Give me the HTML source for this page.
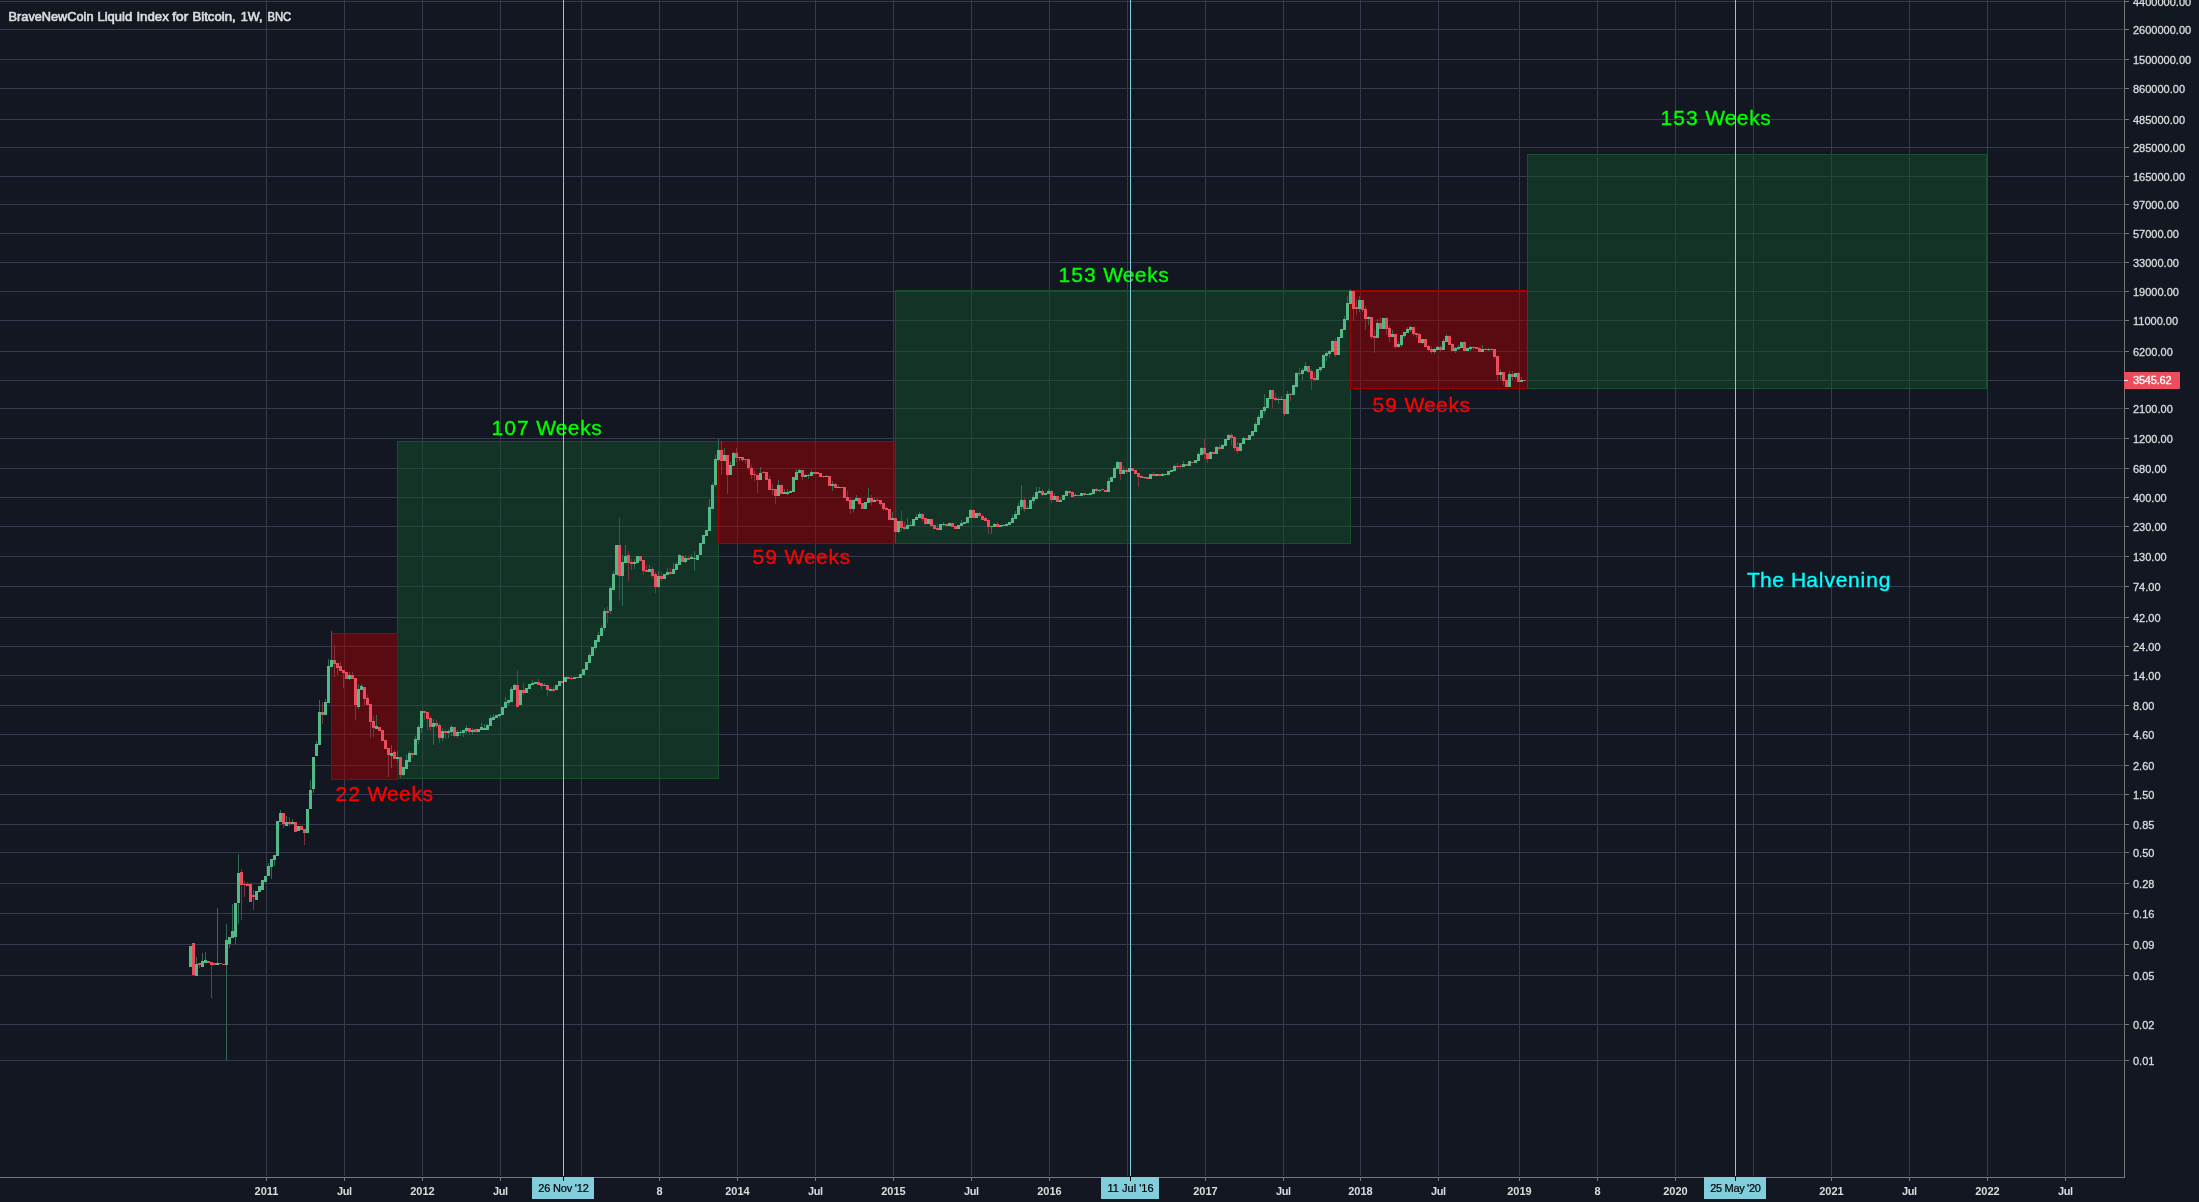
<!DOCTYPE html><html><head><meta charset="utf-8"><title>chart</title><style>html,body{margin:0;padding:0;background:#131722;overflow:hidden}svg{display:block}text{font-family:"Liberation Sans",sans-serif}</style></head><body>
<svg width="2199" height="1202" viewBox="0 0 2199 1202" style="will-change:transform">
<rect width="2199" height="1202" fill="#131722"/>
<g shape-rendering="crispEdges">
<g fill="#363c4e">
<rect x="0" y="1" width="2123" height="1"/>
<rect x="0" y="29" width="2123" height="1"/>
<rect x="0" y="59" width="2123" height="1"/>
<rect x="0" y="88" width="2123" height="1"/>
<rect x="0" y="119" width="2123" height="1"/>
<rect x="0" y="147" width="2123" height="1"/>
<rect x="0" y="176" width="2123" height="1"/>
<rect x="0" y="204" width="2123" height="1"/>
<rect x="0" y="233" width="2123" height="1"/>
<rect x="0" y="262" width="2123" height="1"/>
<rect x="0" y="291" width="2123" height="1"/>
<rect x="0" y="320" width="2123" height="1"/>
<rect x="0" y="351" width="2123" height="1"/>
<rect x="0" y="380" width="2123" height="1"/>
<rect x="0" y="408" width="2123" height="1"/>
<rect x="0" y="438" width="2123" height="1"/>
<rect x="0" y="468" width="2123" height="1"/>
<rect x="0" y="497" width="2123" height="1"/>
<rect x="0" y="526" width="2123" height="1"/>
<rect x="0" y="556" width="2123" height="1"/>
<rect x="0" y="586" width="2123" height="1"/>
<rect x="0" y="617" width="2123" height="1"/>
<rect x="0" y="646" width="2123" height="1"/>
<rect x="0" y="675" width="2123" height="1"/>
<rect x="0" y="705" width="2123" height="1"/>
<rect x="0" y="734" width="2123" height="1"/>
<rect x="0" y="765" width="2123" height="1"/>
<rect x="0" y="794" width="2123" height="1"/>
<rect x="0" y="824" width="2123" height="1"/>
<rect x="0" y="852" width="2123" height="1"/>
<rect x="0" y="883" width="2123" height="1"/>
<rect x="0" y="913" width="2123" height="1"/>
<rect x="0" y="944" width="2123" height="1"/>
<rect x="0" y="975" width="2123" height="1"/>
<rect x="0" y="1024" width="2123" height="1"/>
<rect x="0" y="1060" width="2123" height="1"/>
<rect x="266" y="0" width="1" height="1176"/>
<rect x="344" y="0" width="1" height="1176"/>
<rect x="422" y="0" width="1" height="1176"/>
<rect x="500" y="0" width="1" height="1176"/>
<rect x="581" y="0" width="1" height="1176"/>
<rect x="659" y="0" width="1" height="1176"/>
<rect x="737" y="0" width="1" height="1176"/>
<rect x="815" y="0" width="1" height="1176"/>
<rect x="893" y="0" width="1" height="1176"/>
<rect x="971" y="0" width="1" height="1176"/>
<rect x="1049" y="0" width="1" height="1176"/>
<rect x="1127" y="0" width="1" height="1176"/>
<rect x="1205" y="0" width="1" height="1176"/>
<rect x="1283" y="0" width="1" height="1176"/>
<rect x="1360" y="0" width="1" height="1176"/>
<rect x="1438" y="0" width="1" height="1176"/>
<rect x="1519" y="0" width="1" height="1176"/>
<rect x="1597" y="0" width="1" height="1176"/>
<rect x="1675" y="0" width="1" height="1176"/>
<rect x="1753" y="0" width="1" height="1176"/>
<rect x="1831" y="0" width="1" height="1176"/>
<rect x="1909" y="0" width="1" height="1176"/>
<rect x="1987" y="0" width="1" height="1176"/>
<rect x="2065" y="0" width="1" height="1176"/>
</g>
<rect x="397" y="441" width="322" height="338" fill="rgba(22,80,44,0.5)"/>
<path d="M397 441h322v1h-322zM397 778h322v1h-322zM397 441h1v338h-1zM718 441h1v338h-1z" fill="#16502c"/>
<rect x="331" y="633" width="67" height="147" fill="rgba(160,0,0,0.5)"/>
<path d="M331 633h67v1h-67zM331 779h67v1h-67zM331 633h1v147h-1zM397 633h1v147h-1z" fill="#a00000"/>
<rect x="718" y="441" width="178" height="103" fill="rgba(160,0,0,0.5)"/>
<path d="M718 441h178v1h-178zM718 543h178v1h-178zM718 441h1v103h-1zM895 441h1v103h-1z" fill="#a00000"/>
<rect x="895" y="290" width="456" height="254" fill="rgba(22,80,44,0.5)"/>
<path d="M895 290h456v1h-456zM895 543h456v1h-456zM895 290h1v254h-1zM1350 290h1v254h-1z" fill="#16502c"/>
<rect x="1350" y="290" width="178" height="99" fill="rgba(160,0,0,0.5)"/>
<path d="M1350 290h178v1h-178zM1350 388h178v1h-178zM1350 290h1v99h-1zM1527 290h1v99h-1z" fill="#a00000"/>
<rect x="1527" y="154" width="460" height="235" fill="rgba(22,80,44,0.5)"/>
<path d="M1527 154h460v1h-460zM1527 388h460v1h-460zM1527 154h1v235h-1zM1986 154h1v235h-1z" fill="#16502c"/>
<path d="M196 957h1v19h-1zM202 953h1v14h-1zM205 952h1v11h-1zM217 908h1v57h-1zM226 924h1v136h-1zM229 937h1v11h-1zM232 904h1v34h-1zM235 903h1v41h-1zM238 854h1v70h-1zM268 863h1v13h-1zM271 859h1v20h-1zM274 855h1v11h-1zM280 810h1v12h-1zM286 816h1v10h-1zM292 819h1v5h-1zM310 780h1v29h-1zM313 757h1v36h-1zM316 741h1v15h-1zM319 700h1v45h-1zM325 699h1v16h-1zM328 659h1v44h-1zM331 631h1v36h-1zM349 672h1v8h-1zM358 684h1v25h-1zM361 684h1v6h-1zM376 715h1v14h-1zM391 745h1v23h-1zM397 751h1v11h-1zM403 767h1v9h-1zM406 755h1v14h-1zM409 751h1v11h-1zM415 736h1v19h-1zM418 725h1v19h-1zM421 711h1v22h-1zM433 719h1v26h-1zM442 728h1v13h-1zM448 729h1v9h-1zM451 725h1v11h-1zM457 730h1v8h-1zM460 730h1v6h-1zM463 730h1v7h-1zM466 725h1v9h-1zM472 728h1v7h-1zM481 723h1v7h-1zM484 724h1v6h-1zM487 724h1v6h-1zM490 715h1v11h-1zM493 714h1v6h-1zM499 714h1v4h-1zM505 697h1v11h-1zM508 700h1v6h-1zM511 687h1v15h-1zM514 684h1v6h-1zM532 680h1v5h-1zM544 683h1v3h-1zM550 687h1v4h-1zM589 653h1v10h-1zM595 640h1v10h-1zM598 632h1v10h-1zM601 625h1v11h-1zM604 608h1v23h-1zM610 586h1v28h-1zM613 571h1v19h-1zM622 555h1v51h-1zM625 545h1v18h-1zM634 559h1v10h-1zM649 565h1v7h-1zM658 571h1v17h-1zM667 568h1v7h-1zM673 563h1v11h-1zM676 562h1v8h-1zM679 554h1v11h-1zM685 555h1v8h-1zM691 554h1v5h-1zM694 551h1v20h-1zM709 499h1v32h-1zM712 483h1v26h-1zM715 455h1v32h-1zM718 439h1v23h-1zM724 448h1v13h-1zM730 462h1v13h-1zM733 452h1v14h-1zM739 457h1v4h-1zM760 467h1v13h-1zM778 480h1v16h-1zM784 489h1v5h-1zM787 489h1v6h-1zM790 490h1v3h-1zM796 469h1v11h-1zM799 469h1v4h-1zM805 474h1v3h-1zM808 474h1v5h-1zM811 470h1v6h-1zM826 475h1v2h-1zM832 481h1v10h-1zM838 485h1v3h-1zM853 499h1v13h-1zM856 495h1v6h-1zM868 488h1v15h-1zM874 497h1v5h-1zM892 512h1v8h-1zM898 521h1v12h-1zM907 518h1v11h-1zM910 522h1v4h-1zM916 514h1v6h-1zM919 512h1v6h-1zM943 522h1v4h-1zM961 520h1v6h-1zM970 509h1v9h-1zM991 526h1v8h-1zM994 523h1v4h-1zM1003 524h1v2h-1zM1006 523h1v3h-1zM1012 515h1v8h-1zM1015 511h1v8h-1zM1018 503h1v12h-1zM1021 485h1v25h-1zM1027 506h1v3h-1zM1033 495h1v9h-1zM1036 487h1v12h-1zM1039 487h1v6h-1zM1048 489h1v5h-1zM1054 493h1v7h-1zM1060 497h1v5h-1zM1066 490h1v6h-1zM1075 493h1v3h-1zM1099 489h1v3h-1zM1108 478h1v14h-1zM1114 467h1v11h-1zM1117 461h1v8h-1zM1123 466h1v8h-1zM1144 477h1v2h-1zM1162 473h1v3h-1zM1174 465h1v6h-1zM1183 461h1v6h-1zM1198 452h1v9h-1zM1201 447h1v8h-1zM1210 451h1v8h-1zM1216 446h1v8h-1zM1222 444h1v5h-1zM1228 434h1v6h-1zM1243 437h1v7h-1zM1255 422h1v10h-1zM1258 415h1v10h-1zM1261 410h1v10h-1zM1264 394h1v20h-1zM1278 397h1v7h-1zM1281 396h1v4h-1zM1287 391h1v23h-1zM1296 372h1v15h-1zM1302 368h1v12h-1zM1305 362h1v9h-1zM1320 367h1v5h-1zM1323 354h1v14h-1zM1326 351h1v10h-1zM1329 350h1v8h-1zM1332 340h1v12h-1zM1344 316h1v14h-1zM1347 296h1v24h-1zM1350 289h1v15h-1zM1359 296h1v16h-1zM1368 316h1v9h-1zM1377 319h1v19h-1zM1392 330h1v7h-1zM1398 341h1v7h-1zM1401 335h1v12h-1zM1404 332h1v6h-1zM1407 327h1v6h-1zM1410 326h1v6h-1zM1422 339h1v5h-1zM1434 348h1v6h-1zM1437 346h1v4h-1zM1443 339h1v11h-1zM1446 334h1v8h-1zM1455 347h1v6h-1zM1458 345h1v5h-1zM1470 346h1v5h-1zM1482 345h1v7h-1zM1488 348h1v3h-1zM1500 369h1v11h-1zM1509 371h1v16h-1zM1515 373h1v6h-1zM1521 377h1v5h-1z" fill="#336854"/>
<path d="M199 963h1v5h-1zM211 962h1v36h-1zM241 869h1v51h-1zM244 881h1v16h-1zM247 882h1v4h-1zM253 890h1v20h-1zM283 813h1v15h-1zM289 817h1v9h-1zM304 829h1v16h-1zM322 702h1v22h-1zM334 645h1v32h-1zM337 663h1v12h-1zM340 662h1v9h-1zM343 670h1v18h-1zM352 672h1v7h-1zM355 678h1v42h-1zM364 687h1v19h-1zM367 695h1v10h-1zM370 704h1v34h-1zM373 716h1v21h-1zM388 748h1v29h-1zM394 750h1v9h-1zM400 757h1v21h-1zM412 753h1v5h-1zM424 711h1v9h-1zM427 712h1v18h-1zM430 716h1v15h-1zM436 720h1v8h-1zM439 723h1v20h-1zM445 729h1v10h-1zM454 727h1v10h-1zM469 728h1v7h-1zM475 729h1v4h-1zM517 670h1v37h-1zM523 683h1v12h-1zM538 679h1v6h-1zM541 683h1v7h-1zM547 685h1v11h-1zM553 687h1v5h-1zM571 676h1v4h-1zM607 607h1v16h-1zM619 518h1v83h-1zM628 551h1v30h-1zM631 559h1v11h-1zM643 560h1v15h-1zM646 565h1v7h-1zM652 567h1v11h-1zM655 572h1v21h-1zM661 572h1v9h-1zM670 568h1v7h-1zM682 555h1v7h-1zM688 556h1v4h-1zM721 441h1v34h-1zM727 455h1v39h-1zM736 448h1v14h-1zM742 457h1v5h-1zM745 459h1v5h-1zM748 459h1v11h-1zM751 465h1v14h-1zM754 470h1v11h-1zM757 475h1v18h-1zM763 471h1v2h-1zM769 476h1v14h-1zM772 484h1v11h-1zM775 489h1v15h-1zM781 484h1v10h-1zM802 470h1v10h-1zM823 476h1v2h-1zM835 483h1v5h-1zM847 491h1v10h-1zM850 497h1v17h-1zM859 498h1v7h-1zM871 495h1v10h-1zM877 498h1v3h-1zM880 500h1v6h-1zM883 503h1v8h-1zM886 506h1v4h-1zM895 518h1v25h-1zM901 511h1v20h-1zM904 522h1v8h-1zM922 513h1v9h-1zM925 518h1v7h-1zM937 524h1v6h-1zM973 509h1v9h-1zM979 512h1v5h-1zM982 514h1v6h-1zM985 517h1v4h-1zM988 519h1v15h-1zM997 522h1v5h-1zM1024 498h1v14h-1zM1042 489h1v7h-1zM1051 490h1v13h-1zM1069 491h1v4h-1zM1072 491h1v7h-1zM1084 493h1v3h-1zM1096 488h1v4h-1zM1102 489h1v2h-1zM1120 462h1v18h-1zM1126 468h1v6h-1zM1138 473h1v14h-1zM1141 475h1v3h-1zM1153 472h1v4h-1zM1177 463h1v6h-1zM1180 464h1v4h-1zM1204 439h1v20h-1zM1207 453h1v10h-1zM1219 444h1v7h-1zM1231 433h1v12h-1zM1234 436h1v15h-1zM1237 442h1v12h-1zM1272 390h1v18h-1zM1275 393h1v8h-1zM1284 399h1v17h-1zM1290 393h1v8h-1zM1299 368h1v8h-1zM1308 366h1v7h-1zM1311 369h1v21h-1zM1314 372h1v9h-1zM1335 338h1v19h-1zM1353 291h1v30h-1zM1356 299h1v16h-1zM1362 300h1v12h-1zM1365 306h1v24h-1zM1371 317h1v22h-1zM1374 330h1v23h-1zM1380 317h1v12h-1zM1386 317h1v18h-1zM1389 326h1v16h-1zM1395 334h1v15h-1zM1413 327h1v9h-1zM1416 333h1v5h-1zM1419 333h1v10h-1zM1428 345h1v6h-1zM1431 346h1v8h-1zM1440 346h1v6h-1zM1449 335h1v10h-1zM1452 343h1v9h-1zM1464 341h1v10h-1zM1473 346h1v4h-1zM1479 347h1v5h-1zM1485 348h1v2h-1zM1491 348h1v2h-1zM1494 349h1v10h-1zM1497 356h1v25h-1zM1503 372h1v13h-1zM1506 379h1v8h-1zM1512 371h1v9h-1zM1518 372h1v10h-1z" fill="#7f323f"/>
<path d="M189 946h3v21h-3zM195 964h3v12h-3zM201 961h3v6h-3zM204 960h3v3h-3zM216 963h3v2h-3zM225 940h3v25h-3zM228 937h3v7h-3zM231 931h3v7h-3zM234 903h3v34h-3zM237 873h3v30h-3zM255 891h3v9h-3zM258 886h3v6h-3zM261 880h3v10h-3zM264 876h3v6h-3zM267 866h3v10h-3zM270 859h3v8h-3zM273 855h3v5h-3zM276 821h3v35h-3zM279 813h3v9h-3zM285 822h3v4h-3zM291 822h3v2h-3zM297 826h3v5h-3zM306 809h3v24h-3zM309 790h3v19h-3zM312 757h3v32h-3zM315 744h3v12h-3zM318 712h3v33h-3zM324 702h3v13h-3zM327 666h3v37h-3zM330 660h3v7h-3zM348 675h3v4h-3zM357 689h3v18h-3zM360 686h3v4h-3zM375 726h3v3h-3zM390 753h3v3h-3zM396 757h3v2h-3zM402 767h3v8h-3zM405 760h3v9h-3zM408 753h3v9h-3zM414 739h3v16h-3zM417 727h3v13h-3zM420 711h3v17h-3zM432 723h3v4h-3zM441 731h3v7h-3zM447 731h3v2h-3zM450 727h3v5h-3zM456 732h3v4h-3zM459 732h3v1h-3zM462 730h3v3h-3zM465 728h3v3h-3zM471 730h3v2h-3zM477 729h3v3h-3zM480 727h3v3h-3zM483 728h3v2h-3zM486 725h3v5h-3zM489 718h3v8h-3zM492 717h3v3h-3zM495 715h3v3h-3zM498 714h3v2h-3zM501 707h3v8h-3zM504 702h3v6h-3zM507 700h3v3h-3zM510 689h3v13h-3zM513 685h3v5h-3zM519 690h3v15h-3zM525 688h3v5h-3zM528 684h3v5h-3zM531 683h3v2h-3zM534 682h3v2h-3zM543 685h3v1h-3zM549 689h3v2h-3zM555 685h3v5h-3zM558 681h3v5h-3zM564 677h3v5h-3zM573 677h3v2h-3zM576 677h3v1h-3zM579 674h3v4h-3zM582 669h3v6h-3zM585 662h3v8h-3zM588 655h3v8h-3zM591 647h3v9h-3zM594 640h3v8h-3zM597 635h3v7h-3zM600 628h3v8h-3zM603 611h3v17h-3zM609 588h3v23h-3zM612 574h3v16h-3zM615 545h3v30h-3zM621 562h3v14h-3zM624 556h3v7h-3zM633 562h3v2h-3zM636 556h3v7h-3zM648 569h3v3h-3zM657 576h3v11h-3zM663 574h3v5h-3zM666 572h3v3h-3zM672 569h3v5h-3zM675 564h3v6h-3zM678 555h3v10h-3zM684 558h3v4h-3zM690 557h3v2h-3zM693 558h3v1h-3zM696 555h3v5h-3zM699 543h3v12h-3zM702 535h3v9h-3zM705 530h3v6h-3zM708 507h3v24h-3zM711 485h3v24h-3zM714 459h3v26h-3zM717 450h3v10h-3zM723 455h3v6h-3zM729 465h3v10h-3zM732 453h3v13h-3zM738 457h3v1h-3zM759 473h3v7h-3zM777 485h3v11h-3zM783 492h3v2h-3zM786 492h3v2h-3zM789 491h3v2h-3zM792 477h3v15h-3zM795 472h3v8h-3zM798 470h3v3h-3zM804 475h3v2h-3zM807 475h3v1h-3zM810 472h3v4h-3zM825 476h3v1h-3zM831 484h3v2h-3zM837 487h3v1h-3zM852 500h3v9h-3zM855 498h3v3h-3zM864 502h3v7h-3zM867 498h3v5h-3zM873 500h3v2h-3zM891 518h3v2h-3zM897 521h3v11h-3zM906 525h3v4h-3zM909 525h3v1h-3zM912 519h3v7h-3zM915 517h3v3h-3zM918 514h3v4h-3zM927 519h3v5h-3zM939 524h3v6h-3zM942 524h3v1h-3zM948 523h3v3h-3zM957 525h3v4h-3zM960 523h3v3h-3zM963 522h3v2h-3zM966 517h3v6h-3zM969 510h3v8h-3zM975 513h3v5h-3zM990 526h3v1h-3zM993 524h3v3h-3zM999 525h3v2h-3zM1002 525h3v1h-3zM1005 524h3v2h-3zM1008 522h3v3h-3zM1011 518h3v5h-3zM1014 514h3v5h-3zM1017 506h3v9h-3zM1020 500h3v7h-3zM1026 508h3v1h-3zM1029 500h3v9h-3zM1032 497h3v4h-3zM1035 492h3v7h-3zM1038 491h3v2h-3zM1044 493h3v2h-3zM1047 491h3v3h-3zM1053 496h3v4h-3zM1059 500h3v2h-3zM1062 495h3v5h-3zM1065 491h3v5h-3zM1074 495h3v1h-3zM1080 493h3v3h-3zM1086 494h3v1h-3zM1089 493h3v2h-3zM1092 489h3v5h-3zM1098 490h3v1h-3zM1107 481h3v11h-3zM1110 477h3v5h-3zM1113 468h3v10h-3zM1116 462h3v7h-3zM1122 470h3v4h-3zM1128 468h3v4h-3zM1143 477h3v1h-3zM1149 474h3v5h-3zM1155 474h3v2h-3zM1161 474h3v2h-3zM1164 474h3v1h-3zM1167 471h3v4h-3zM1170 470h3v2h-3zM1173 466h3v5h-3zM1182 464h3v3h-3zM1188 461h3v5h-3zM1194 460h3v3h-3zM1197 454h3v7h-3zM1200 448h3v7h-3zM1209 452h3v7h-3zM1215 447h3v7h-3zM1221 445h3v4h-3zM1224 439h3v7h-3zM1227 435h3v5h-3zM1239 443h3v8h-3zM1242 438h3v6h-3zM1248 435h3v5h-3zM1251 431h3v5h-3zM1254 424h3v8h-3zM1257 417h3v8h-3zM1260 410h3v8h-3zM1263 407h3v4h-3zM1266 398h3v10h-3zM1269 390h3v9h-3zM1277 399h3v1h-3zM1280 399h3v1h-3zM1286 394h3v20h-3zM1292 385h3v10h-3zM1295 373h3v14h-3zM1301 370h3v4h-3zM1304 366h3v5h-3zM1316 369h3v11h-3zM1319 367h3v3h-3zM1322 355h3v13h-3zM1325 353h3v3h-3zM1328 351h3v3h-3zM1331 341h3v11h-3zM1337 337h3v18h-3zM1340 329h3v9h-3zM1343 319h3v11h-3zM1346 303h3v17h-3zM1349 291h3v13h-3zM1358 300h3v9h-3zM1367 317h3v2h-3zM1376 323h3v15h-3zM1382 318h3v11h-3zM1391 334h3v3h-3zM1397 344h3v3h-3zM1400 335h3v10h-3zM1403 332h3v4h-3zM1406 329h3v4h-3zM1409 327h3v3h-3zM1421 339h3v4h-3zM1433 349h3v3h-3zM1436 347h3v3h-3zM1442 341h3v9h-3zM1445 336h3v6h-3zM1454 348h3v3h-3zM1457 347h3v2h-3zM1460 342h3v6h-3zM1466 348h3v3h-3zM1469 347h3v2h-3zM1481 349h3v3h-3zM1487 349h3v1h-3zM1499 372h3v3h-3zM1508 374h3v13h-3zM1514 373h3v4h-3zM1520 380h3v2h-3z" fill="#53b987"/>
<path d="M192 943h3v32h-3zM198 963h3v2h-3zM207 961h3v2h-3zM210 962h3v3h-3zM213 963h3v2h-3zM219 963h3v1h-3zM222 964h3v1h-3zM240 872h3v13h-3zM243 884h3v1h-3zM246 884h3v2h-3zM249 884h3v18h-3zM252 895h3v2h-3zM282 813h3v11h-3zM288 822h3v2h-3zM294 822h3v10h-3zM300 826h3v4h-3zM303 829h3v4h-3zM321 712h3v3h-3zM333 660h3v4h-3zM336 663h3v5h-3zM339 666h3v5h-3zM342 670h3v3h-3zM345 672h3v7h-3zM351 675h3v4h-3zM354 678h3v27h-3zM363 687h3v12h-3zM366 698h3v7h-3zM369 704h3v18h-3zM372 721h3v7h-3zM378 727h3v4h-3zM381 730h3v11h-3zM384 740h3v9h-3zM387 748h3v7h-3zM393 752h3v7h-3zM399 757h3v18h-3zM411 753h3v2h-3zM423 711h3v2h-3zM426 712h3v7h-3zM429 718h3v9h-3zM435 723h3v3h-3zM438 725h3v13h-3zM444 731h3v2h-3zM453 727h3v9h-3zM468 728h3v4h-3zM474 729h3v3h-3zM516 685h3v22h-3zM522 690h3v3h-3zM537 682h3v3h-3zM540 683h3v3h-3zM546 685h3v5h-3zM552 689h3v2h-3zM561 681h3v2h-3zM567 677h3v2h-3zM570 678h3v1h-3zM606 611h3v2h-3zM618 545h3v31h-3zM627 555h3v8h-3zM630 562h3v2h-3zM639 556h3v5h-3zM642 560h3v11h-3zM645 570h3v2h-3zM651 569h3v7h-3zM654 574h3v13h-3zM660 576h3v3h-3zM669 572h3v2h-3zM681 556h3v6h-3zM687 558h3v2h-3zM720 450h3v11h-3zM726 455h3v20h-3zM735 453h3v5h-3zM741 457h3v3h-3zM744 459h3v1h-3zM747 459h3v9h-3zM750 468h3v7h-3zM753 474h3v1h-3zM756 475h3v5h-3zM762 472h3v1h-3zM765 472h3v8h-3zM768 479h3v11h-3zM771 489h3v1h-3zM774 489h3v7h-3zM780 485h3v9h-3zM801 470h3v7h-3zM813 472h3v2h-3zM816 472h3v2h-3zM819 473h3v4h-3zM822 476h3v1h-3zM828 476h3v10h-3zM834 484h3v4h-3zM840 487h3v1h-3zM843 487h3v11h-3zM846 497h3v4h-3zM849 500h3v9h-3zM858 498h3v6h-3zM861 503h3v6h-3zM870 498h3v4h-3zM876 500h3v1h-3zM879 500h3v4h-3zM882 503h3v6h-3zM885 508h3v2h-3zM888 509h3v11h-3zM894 518h3v14h-3zM900 521h3v7h-3zM903 527h3v2h-3zM921 514h3v5h-3zM924 518h3v6h-3zM930 519h3v7h-3zM933 525h3v4h-3zM936 528h3v2h-3zM945 524h3v2h-3zM951 523h3v4h-3zM954 526h3v3h-3zM972 510h3v8h-3zM978 513h3v3h-3zM981 516h3v4h-3zM984 518h3v3h-3zM987 520h3v7h-3zM996 524h3v3h-3zM1023 500h3v9h-3zM1041 491h3v4h-3zM1050 491h3v9h-3zM1056 496h3v6h-3zM1068 491h3v2h-3zM1071 492h3v5h-3zM1077 495h3v1h-3zM1083 493h3v2h-3zM1095 489h3v2h-3zM1101 489h3v1h-3zM1104 490h3v2h-3zM1119 462h3v12h-3zM1125 470h3v2h-3zM1131 468h3v3h-3zM1134 470h3v4h-3zM1137 473h3v4h-3zM1140 476h3v2h-3zM1146 477h3v2h-3zM1152 474h3v2h-3zM1158 474h3v2h-3zM1176 466h3v1h-3zM1179 466h3v1h-3zM1185 464h3v2h-3zM1191 462h3v1h-3zM1203 448h3v6h-3zM1206 453h3v6h-3zM1212 452h3v2h-3zM1218 447h3v2h-3zM1230 435h3v3h-3zM1233 437h3v11h-3zM1236 447h3v4h-3zM1245 438h3v2h-3zM1271 390h3v9h-3zM1274 398h3v2h-3zM1283 399h3v15h-3zM1289 394h3v1h-3zM1298 373h3v1h-3zM1307 366h3v6h-3zM1310 371h3v8h-3zM1313 378h3v2h-3zM1334 341h3v14h-3zM1352 291h3v18h-3zM1355 307h3v2h-3zM1361 300h3v10h-3zM1364 309h3v10h-3zM1370 317h3v20h-3zM1373 336h3v2h-3zM1379 323h3v6h-3zM1385 318h3v11h-3zM1388 328h3v9h-3zM1394 334h3v13h-3zM1412 327h3v7h-3zM1415 333h3v2h-3zM1418 334h3v9h-3zM1424 339h3v8h-3zM1427 346h3v4h-3zM1430 349h3v3h-3zM1439 347h3v3h-3zM1448 336h3v9h-3zM1451 344h3v7h-3zM1463 342h3v9h-3zM1472 347h3v1h-3zM1475 347h3v2h-3zM1478 348h3v4h-3zM1484 349h3v1h-3zM1490 349h3v1h-3zM1493 349h3v8h-3zM1496 356h3v19h-3zM1502 372h3v9h-3zM1505 380h3v7h-3zM1511 374h3v3h-3zM1517 373h3v9h-3zM1523 380h3v1h-3z" fill="#eb4d5c"/>
</g>
<text x="335" y="801" font-size="21" fill="#ff0000" stroke="#ff0000" stroke-width="0.35" dx="0.52 1.04 1.12 0.58 0.09 0.23 0.79 0.63">22 Weeks</text>
<text x="491" y="435" font-size="21" fill="#00ff00" stroke="#00ff00" stroke-width="0.35" dx="0.52 1.04 1.04 1.12 0.58 0.09 0.23 0.79 0.63">107 Weeks</text>
<text x="752" y="564" font-size="21" fill="#ff0000" stroke="#ff0000" stroke-width="0.35" dx="0.52 1.04 1.12 0.58 0.09 0.23 0.79 0.63">59 Weeks</text>
<text x="1058" y="282" font-size="21" fill="#00ff00" stroke="#00ff00" stroke-width="0.35" dx="0.52 1.04 1.04 1.12 0.58 0.09 0.23 0.79 0.63">153 Weeks</text>
<text x="1372" y="412" font-size="21" fill="#ff0000" stroke="#ff0000" stroke-width="0.35" dx="0.52 1.04 1.12 0.58 0.09 0.23 0.79 0.63">59 Weeks</text>
<text x="1660" y="125" font-size="21" fill="#00ff00" stroke="#00ff00" stroke-width="0.35" dx="0.52 1.04 1.04 1.12 0.58 0.09 0.23 0.79 0.63">153 Weeks</text>
<text x="1747.2" y="587" font-size="21" fill="#00ffff" stroke="#00ffff" stroke-width="0.35" dx="-0.25 0.24 0.61 0.72 0.53 0.10 0.58 1.08 0.79 0.61 0.90 0.90 0.88">The Halvening</text>
<g shape-rendering="crispEdges">
<rect x="563" y="0" width="1" height="1176" fill="#82cddc"/>
<rect x="1130" y="0" width="1" height="1176" fill="#82cddc"/>
<rect x="1735" y="0" width="1" height="1176" fill="#82cddc"/>
<rect x="0" y="1177" width="2125" height="1" fill="#787878"/>
<rect x="2124" y="0" width="1" height="1178" fill="#787878"/>
<g fill="#787878">
<rect x="2125" y="1" width="4" height="1"/>
<rect x="2125" y="29" width="4" height="1"/>
<rect x="2125" y="59" width="4" height="1"/>
<rect x="2125" y="88" width="4" height="1"/>
<rect x="2125" y="119" width="4" height="1"/>
<rect x="2125" y="147" width="4" height="1"/>
<rect x="2125" y="176" width="4" height="1"/>
<rect x="2125" y="204" width="4" height="1"/>
<rect x="2125" y="233" width="4" height="1"/>
<rect x="2125" y="262" width="4" height="1"/>
<rect x="2125" y="291" width="4" height="1"/>
<rect x="2125" y="320" width="4" height="1"/>
<rect x="2125" y="351" width="4" height="1"/>
<rect x="2125" y="408" width="4" height="1"/>
<rect x="2125" y="438" width="4" height="1"/>
<rect x="2125" y="468" width="4" height="1"/>
<rect x="2125" y="497" width="4" height="1"/>
<rect x="2125" y="526" width="4" height="1"/>
<rect x="2125" y="556" width="4" height="1"/>
<rect x="2125" y="586" width="4" height="1"/>
<rect x="2125" y="617" width="4" height="1"/>
<rect x="2125" y="646" width="4" height="1"/>
<rect x="2125" y="675" width="4" height="1"/>
<rect x="2125" y="705" width="4" height="1"/>
<rect x="2125" y="734" width="4" height="1"/>
<rect x="2125" y="765" width="4" height="1"/>
<rect x="2125" y="794" width="4" height="1"/>
<rect x="2125" y="824" width="4" height="1"/>
<rect x="2125" y="852" width="4" height="1"/>
<rect x="2125" y="883" width="4" height="1"/>
<rect x="2125" y="913" width="4" height="1"/>
<rect x="2125" y="944" width="4" height="1"/>
<rect x="2125" y="975" width="4" height="1"/>
<rect x="2125" y="1024" width="4" height="1"/>
<rect x="2125" y="1060" width="4" height="1"/>
<rect x="266" y="1178" width="1" height="3"/>
<rect x="344" y="1178" width="1" height="3"/>
<rect x="422" y="1178" width="1" height="3"/>
<rect x="500" y="1178" width="1" height="3"/>
<rect x="581" y="1178" width="1" height="3"/>
<rect x="659" y="1178" width="1" height="3"/>
<rect x="737" y="1178" width="1" height="3"/>
<rect x="815" y="1178" width="1" height="3"/>
<rect x="893" y="1178" width="1" height="3"/>
<rect x="971" y="1178" width="1" height="3"/>
<rect x="1049" y="1178" width="1" height="3"/>
<rect x="1127" y="1178" width="1" height="3"/>
<rect x="1205" y="1178" width="1" height="3"/>
<rect x="1283" y="1178" width="1" height="3"/>
<rect x="1360" y="1178" width="1" height="3"/>
<rect x="1438" y="1178" width="1" height="3"/>
<rect x="1519" y="1178" width="1" height="3"/>
<rect x="1597" y="1178" width="1" height="3"/>
<rect x="1675" y="1178" width="1" height="3"/>
<rect x="1753" y="1178" width="1" height="3"/>
<rect x="1831" y="1178" width="1" height="3"/>
<rect x="1909" y="1178" width="1" height="3"/>
<rect x="1987" y="1178" width="1" height="3"/>
<rect x="2065" y="1178" width="1" height="3"/>
</g>
<rect x="2124" y="372" width="56" height="17" fill="#eb4d5c"/>
<rect x="2124" y="380" width="4" height="1" fill="#fff"/>
<rect x="532" y="1177" width="62" height="22" fill="#82cddc"/>
<rect x="563" y="1177" width="1" height="4" fill="#000"/>
<rect x="1101" y="1177" width="58" height="22" fill="#82cddc"/>
<rect x="1130" y="1177" width="1" height="4" fill="#000"/>
<rect x="1704" y="1177" width="62" height="22" fill="#82cddc"/>
<rect x="1735" y="1177" width="1" height="4" fill="#000"/>
</g>
<text x="2133" y="6" font-size="11" fill="#dcdcdc" stroke="#dcdcdc" stroke-width="0.3">4400000.00</text>
<text x="2133" y="34" font-size="11" fill="#dcdcdc" stroke="#dcdcdc" stroke-width="0.3">2600000.00</text>
<text x="2133" y="64" font-size="11" fill="#dcdcdc" stroke="#dcdcdc" stroke-width="0.3">1500000.00</text>
<text x="2133" y="93" font-size="11" fill="#dcdcdc" stroke="#dcdcdc" stroke-width="0.3">860000.00</text>
<text x="2133" y="124" font-size="11" fill="#dcdcdc" stroke="#dcdcdc" stroke-width="0.3">485000.00</text>
<text x="2133" y="152" font-size="11" fill="#dcdcdc" stroke="#dcdcdc" stroke-width="0.3">285000.00</text>
<text x="2133" y="181" font-size="11" fill="#dcdcdc" stroke="#dcdcdc" stroke-width="0.3">165000.00</text>
<text x="2133" y="209" font-size="11" fill="#dcdcdc" stroke="#dcdcdc" stroke-width="0.3">97000.00</text>
<text x="2133" y="238" font-size="11" fill="#dcdcdc" stroke="#dcdcdc" stroke-width="0.3">57000.00</text>
<text x="2133" y="267" font-size="11" fill="#dcdcdc" stroke="#dcdcdc" stroke-width="0.3">33000.00</text>
<text x="2133" y="296" font-size="11" fill="#dcdcdc" stroke="#dcdcdc" stroke-width="0.3">19000.00</text>
<text x="2133" y="325" font-size="11" fill="#dcdcdc" stroke="#dcdcdc" stroke-width="0.3">11000.00</text>
<text x="2133" y="356" font-size="11" fill="#dcdcdc" stroke="#dcdcdc" stroke-width="0.3">6200.00</text>
<text x="2133" y="413" font-size="11" fill="#dcdcdc" stroke="#dcdcdc" stroke-width="0.3">2100.00</text>
<text x="2133" y="443" font-size="11" fill="#dcdcdc" stroke="#dcdcdc" stroke-width="0.3">1200.00</text>
<text x="2133" y="473" font-size="11" fill="#dcdcdc" stroke="#dcdcdc" stroke-width="0.3">680.00</text>
<text x="2133" y="502" font-size="11" fill="#dcdcdc" stroke="#dcdcdc" stroke-width="0.3">400.00</text>
<text x="2133" y="531" font-size="11" fill="#dcdcdc" stroke="#dcdcdc" stroke-width="0.3">230.00</text>
<text x="2133" y="561" font-size="11" fill="#dcdcdc" stroke="#dcdcdc" stroke-width="0.3">130.00</text>
<text x="2133" y="591" font-size="11" fill="#dcdcdc" stroke="#dcdcdc" stroke-width="0.3">74.00</text>
<text x="2133" y="622" font-size="11" fill="#dcdcdc" stroke="#dcdcdc" stroke-width="0.3">42.00</text>
<text x="2133" y="651" font-size="11" fill="#dcdcdc" stroke="#dcdcdc" stroke-width="0.3">24.00</text>
<text x="2133" y="680" font-size="11" fill="#dcdcdc" stroke="#dcdcdc" stroke-width="0.3">14.00</text>
<text x="2133" y="710" font-size="11" fill="#dcdcdc" stroke="#dcdcdc" stroke-width="0.3">8.00</text>
<text x="2133" y="739" font-size="11" fill="#dcdcdc" stroke="#dcdcdc" stroke-width="0.3">4.60</text>
<text x="2133" y="770" font-size="11" fill="#dcdcdc" stroke="#dcdcdc" stroke-width="0.3">2.60</text>
<text x="2133" y="799" font-size="11" fill="#dcdcdc" stroke="#dcdcdc" stroke-width="0.3">1.50</text>
<text x="2133" y="829" font-size="11" fill="#dcdcdc" stroke="#dcdcdc" stroke-width="0.3">0.85</text>
<text x="2133" y="857" font-size="11" fill="#dcdcdc" stroke="#dcdcdc" stroke-width="0.3">0.50</text>
<text x="2133" y="888" font-size="11" fill="#dcdcdc" stroke="#dcdcdc" stroke-width="0.3">0.28</text>
<text x="2133" y="918" font-size="11" fill="#dcdcdc" stroke="#dcdcdc" stroke-width="0.3">0.16</text>
<text x="2133" y="949" font-size="11" fill="#dcdcdc" stroke="#dcdcdc" stroke-width="0.3">0.09</text>
<text x="2133" y="980" font-size="11" fill="#dcdcdc" stroke="#dcdcdc" stroke-width="0.3">0.05</text>
<text x="2133" y="1029" font-size="11" fill="#dcdcdc" stroke="#dcdcdc" stroke-width="0.3">0.02</text>
<text x="2133" y="1065" font-size="11" fill="#dcdcdc" stroke="#dcdcdc" stroke-width="0.3">0.01</text>
<text x="2133" y="384" font-size="11" fill="#fff" stroke="#fff" stroke-width="0.3" textLength="38.5" lengthAdjust="spacing">3545.62</text>
<text x="266.5" y="1195" font-size="11" font-weight="bold" text-anchor="middle" fill="#dcdcdc">2011</text>
<text x="344.5" y="1195" font-size="11" font-weight="bold" text-anchor="middle" fill="#dcdcdc" textLength="14.9" lengthAdjust="spacing">Jul</text>
<text x="422.5" y="1195" font-size="11" font-weight="bold" text-anchor="middle" fill="#dcdcdc">2012</text>
<text x="500.5" y="1195" font-size="11" font-weight="bold" text-anchor="middle" fill="#dcdcdc" textLength="14.9" lengthAdjust="spacing">Jul</text>
<text x="659.5" y="1195" font-size="11" font-weight="bold" text-anchor="middle" fill="#dcdcdc">8</text>
<text x="737.5" y="1195" font-size="11" font-weight="bold" text-anchor="middle" fill="#dcdcdc">2014</text>
<text x="815.5" y="1195" font-size="11" font-weight="bold" text-anchor="middle" fill="#dcdcdc" textLength="14.9" lengthAdjust="spacing">Jul</text>
<text x="893.5" y="1195" font-size="11" font-weight="bold" text-anchor="middle" fill="#dcdcdc">2015</text>
<text x="971.5" y="1195" font-size="11" font-weight="bold" text-anchor="middle" fill="#dcdcdc" textLength="14.9" lengthAdjust="spacing">Jul</text>
<text x="1049.5" y="1195" font-size="11" font-weight="bold" text-anchor="middle" fill="#dcdcdc">2016</text>
<text x="1205.5" y="1195" font-size="11" font-weight="bold" text-anchor="middle" fill="#dcdcdc">2017</text>
<text x="1283.5" y="1195" font-size="11" font-weight="bold" text-anchor="middle" fill="#dcdcdc" textLength="14.9" lengthAdjust="spacing">Jul</text>
<text x="1360.5" y="1195" font-size="11" font-weight="bold" text-anchor="middle" fill="#dcdcdc">2018</text>
<text x="1438.5" y="1195" font-size="11" font-weight="bold" text-anchor="middle" fill="#dcdcdc" textLength="14.9" lengthAdjust="spacing">Jul</text>
<text x="1519.5" y="1195" font-size="11" font-weight="bold" text-anchor="middle" fill="#dcdcdc">2019</text>
<text x="1597.5" y="1195" font-size="11" font-weight="bold" text-anchor="middle" fill="#dcdcdc">8</text>
<text x="1675.5" y="1195" font-size="11" font-weight="bold" text-anchor="middle" fill="#dcdcdc">2020</text>
<text x="1831.5" y="1195" font-size="11" font-weight="bold" text-anchor="middle" fill="#dcdcdc">2021</text>
<text x="1909.5" y="1195" font-size="11" font-weight="bold" text-anchor="middle" fill="#dcdcdc" textLength="14.9" lengthAdjust="spacing">Jul</text>
<text x="1987.5" y="1195" font-size="11" font-weight="bold" text-anchor="middle" fill="#dcdcdc">2022</text>
<text x="2065.5" y="1195" font-size="11" font-weight="bold" text-anchor="middle" fill="#dcdcdc" textLength="14.9" lengthAdjust="spacing">Jul</text>
<text x="563.5" y="1192" font-size="11" text-anchor="middle" fill="#000" stroke="#000" stroke-width="0.2" textLength="50.6" lengthAdjust="spacing">26 Nov '12</text>
<text x="1130.5" y="1192" font-size="11" text-anchor="middle" fill="#000" stroke="#000" stroke-width="0.2" textLength="46.1" lengthAdjust="spacing">11 Jul '16</text>
<text x="1735.5" y="1192" font-size="11" text-anchor="middle" fill="#000" stroke="#000" stroke-width="0.2" textLength="50.6" lengthAdjust="spacing">25 May '20</text>
<g font-size="12.5" fill="#dcdcdc" stroke="#dcdcdc" stroke-width="0.65">
<text x="8.6" y="21" textLength="84.9" lengthAdjust="spacingAndGlyphs">BraveNewCoin</text>
<text x="97.5" y="21" textLength="34.6" lengthAdjust="spacingAndGlyphs">Liquid</text>
<text x="136.4" y="21" textLength="32.4" lengthAdjust="spacingAndGlyphs">Index</text>
<text x="172.2" y="21" textLength="16.1" lengthAdjust="spacingAndGlyphs">for</text>
<text x="192.4" y="21" textLength="43.3" lengthAdjust="spacingAndGlyphs">Bitcoin,</text>
<text x="240.8" y="21" textLength="21.8" lengthAdjust="spacingAndGlyphs">1W,</text>
<text x="267.4" y="21" textLength="23.9" lengthAdjust="spacingAndGlyphs">BNC</text>
</g>
</svg></body></html>
